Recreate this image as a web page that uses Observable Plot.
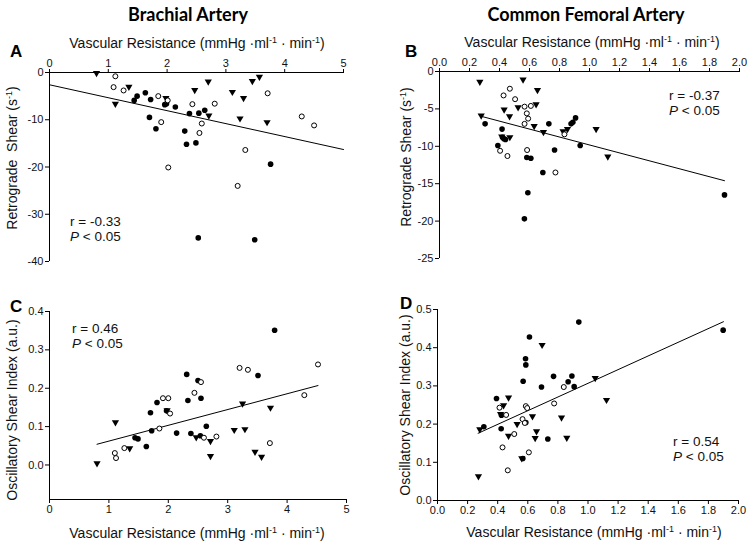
<!DOCTYPE html>
<html><head><meta charset="utf-8">
<script src="https://cdn.jsdelivr.net/npm/d3@7"></script>
<script src="https://cdn.jsdelivr.net/npm/@observablehq/plot@0.6"></script>
<style>
body{margin:0;background:#fff;}
#wrap{position:relative;width:754px;height:547px;font-family:"Liberation Sans",Arial,sans-serif;color:#111;overflow:hidden;}
.abs{position:absolute;white-space:nowrap;}
.title{font-family:Lato,"Open Sans",sans-serif;font-weight:bold;font-size:18px;color:#000;}
.letter{font-weight:bold;font-size:17px;color:#000;}
.axt{font-size:14px;}
.axt sup{font-size:9px;}
.note{font-size:13.5px;line-height:14.5px;}
.plot{position:absolute;}
</style></head><body><div id="wrap"></div>
<script>
// ---------- data ----------
const panelTitles = ["Brachial Artery", "Common Femoral Artery"];
const panelLetters = ["A", "B", "C", "D"];
const notesR = ["r = -0.33", "r = -0.37", "r = 0.46", "r = 0.54"];
const noteP = "< 0.05";

const xTicksBrachial = [0, 1, 2, 3, 4, 5];
const xTicksFemoral = [0, 0.2, 0.4, 0.6, 0.8, 1.0, 1.2, 1.4, 1.6, 1.8, 2.0];
const yTicksA = [0, -10, -20, -30, -40];
const yTicksB = [0, -5, -10, -15, -20, -25];
const yTicksC = [0, 0.1, 0.2, 0.3, 0.4];
const yTicksD = [0, 0.1, 0.2, 0.3, 0.4, 0.5];

// Panel A: brachial retrograde shear vs vascular resistance
const aTri = [[0.80,-0.3],[1.12,-6.8],[1.35,-3.2],[1.98,-5.6],[2.47,-3.9],[2.70,-2.1],[2.71,-9.3],[3.11,-4.3],[3.30,-5.6],[3.24,-9.9],[3.45,-2.0],[3.57,-1.1],[3.70,-10.7]];
const aFilled = [[1.44,-5.9],[1.49,-5.0],[1.63,-4.3],[1.72,-5.7],[1.70,-9.5],[1.81,-11.9],[1.96,-6.8],[1.99,-6.6],[2.14,-7.3],[2.30,-12.4],[2.33,-15.2],[2.38,-8.7],[2.49,-14.9],[2.54,-8.6],[2.64,-8.0],[3.76,-19.4],[2.53,-35.0],[3.49,-35.4]];
const aOpen = [[1.12,-0.8],[1.09,-3.1],[1.26,-3.8],[1.85,-5.0],[2.01,-5.9],[1.90,-10.5],[2.43,-6.7],[2.81,-6.6],[2.59,-10.8],[2.55,-12.8],[3.71,-4.4],[3.33,-16.4],[2.02,-20.1],[3.20,-24.0],[4.29,-9.3],[4.50,-11.2]];
const aFitX = [0, 5], aFitY = [-2.6, -16.3];

// Panel B: femoral retrograde shear
const bTri = [[0.269,-1.5],[0.557,-1.2],[0.653,-2.6],[0.431,-5.2],[0.524,-4.9],[0.644,-4.5],[0.467,-6.1],[0.278,-6.0],[0.631,-7.4],[0.693,-8.2],[0.415,-8.8],[0.469,-8.9],[0.824,-8.1],[0.853,-7.8],[1.044,-7.8],[1.122,-11.5]];
const bFilled = [[0.304,-7.0],[0.417,-7.7],[0.42,-8.8],[0.43,-9.0],[0.44,-9.1],[0.389,-9.9],[0.582,-11.5],[0.609,-11.6],[0.729,-7.0],[0.767,-10.5],[0.689,-13.5],[0.589,-16.2],[0.566,-19.7],[0.907,-6.2],[0.889,-6.8],[0.877,-7.0],[0.938,-9.9],[1.90,-16.5]];
const bOpen = [[0.427,-3.2],[0.469,-2.3],[0.504,-3.7],[0.567,-4.7],[0.609,-4.6],[0.582,-5.6],[0.591,-6.3],[0.567,-7.0],[0.404,-10.6],[0.453,-11.3],[0.584,-10.5],[0.773,-13.5],[0.833,-8.4]];
const bFitX = [0.28, 1.90], bFitY = [-6.0, -14.6];

// Panel C: brachial oscillatory shear index
const cTri = [[0.80,0.002],[1.11,0.109],[1.35,0.041],[1.98,0.140],[2.47,0.070],[2.71,0.060],[2.71,0.021],[3.11,0.089],[3.29,0.091],[3.25,0.158],[3.46,0.032],[3.57,0.019],[3.72,0.147]];
const cFilled = [[3.79,0.351],[3.51,0.233],[2.31,0.236],[2.50,0.220],[2.33,0.168],[2.55,0.174],[1.81,0.163],[1.70,0.136],[1.97,0.141],[2.64,0.101],[1.72,0.089],[2.14,0.083],[2.38,0.082],[2.54,0.076],[1.44,0.071],[1.49,0.068],[1.63,0.048]];
const cOpen = [[4.52,0.262],[3.20,0.253],[3.34,0.248],[4.29,0.182],[2.55,0.216],[2.44,0.188],[1.91,0.174],[2.00,0.174],[2.03,0.134],[1.85,0.095],[2.60,0.071],[2.81,0.074],[1.26,0.044],[1.10,0.031],[1.12,0.018],[3.71,0.057]];
const cFitX = [0.80, 4.52], cFitY = [0.054, 0.207];

// Panel D: femoral oscillatory shear index
const dTri = [[0.695,0.405],[0.472,0.267],[0.439,0.247],[0.419,0.224],[0.281,0.184],[0.529,0.198],[0.631,0.218],[0.824,0.215],[0.472,0.167],[0.658,0.179],[0.649,0.161],[0.859,0.162],[0.272,0.061],[0.560,0.108],[1.048,0.318],[1.123,0.261]];
const dFilled = [[0.611,0.428],[0.585,0.371],[0.587,0.355],[0.569,0.312],[0.691,0.297],[0.771,0.325],[0.868,0.311],[0.893,0.326],[0.908,0.298],[0.939,0.467],[1.898,0.446],[0.392,0.267],[0.308,0.193],[0.423,0.188],[0.587,0.204],[0.733,0.161],[0.567,0.110],[0.425,0.223]];
const dOpen = [[0.412,0.243],[0.456,0.224],[0.587,0.247],[0.596,0.242],[0.565,0.213],[0.580,0.203],[0.510,0.174],[0.432,0.139],[0.607,0.126],[0.467,0.079],[0.775,0.254],[0.839,0.297]];
const dFitX = [0.27, 1.90], dFitY = [0.176, 0.468];

// ---------- drawing ----------
const wrap = document.getElementById("wrap");
const triDown = {draw(ctx) { ctx.moveTo(-3.6, -2.9); ctx.lineTo(3.6, -2.9); ctx.lineTo(0, 3.3); ctx.closePath(); }};
const fmtInt = d => String(d);
const fmt1 = d => d3.format(".1f")(d).replace("−", "-");
const fmtHy = d => String(d);

function panel(o) {
  const xAxisY = o.xAnchor === "top" ? o.yDomain[1] : o.yDomain[0];
  const fit = o.fitX.map((x, i) => ({x, y: o.fitY[i]}));
  const chart = Plot.plot({
    width: o.width, height: o.height,
    marginLeft: o.ml, marginRight: o.mr, marginTop: o.mt, marginBottom: o.mb,
    style: {fontFamily: '"Liberation Sans", Arial, sans-serif', fontSize: "11px", color: "#111", background: "transparent", overflow: "visible"},
    x: {domain: o.xDomain},
    y: {domain: o.yDomain},
    marks: [
      Plot.ruleY([xAxisY], {stroke: "#000", strokeWidth: 1}),
      Plot.ruleX([o.xDomain[0]], {stroke: "#000", strokeWidth: 1}),
      Plot.axisX({anchor: o.xAnchor, ticks: o.xTicks, tickFormat: o.xFmt, tickSize: 4, tickPadding: 2, label: null, stroke: "#000"}),
      Plot.axisY({anchor: "left", ticks: o.yTicks, tickFormat: o.yFmt, tickSize: 4, tickPadding: 2, label: null, stroke: "#000"}),
      Plot.line(fit, {x: "x", y: "y", stroke: "#000", strokeWidth: 1}),
      Plot.dot(o.tri, {x: d => d[0], y: d => d[1], symbol: triDown, fill: "#000", stroke: "none"}),
      Plot.dot(o.filled, {x: d => d[0], y: d => d[1], r: 2.8, fill: "#000", stroke: "none"}),
      Plot.dot(o.open, {x: d => d[0], y: d => d[1], r: 2.5, fill: "#fff", stroke: "#000", strokeWidth: 1})
    ]
  });
  chart.classList.add("plot");
  chart.style.left = o.left + "px";
  chart.style.top = o.top + "px";
  wrap.appendChild(chart);
}

panel({left: 0, top: 0, width: 377, height: 275, ml: 49, mr: 34, mt: 72, mb: 14,
  xDomain: [0, 5], yDomain: [-40, 0], xTicks: xTicksBrachial, yTicks: yTicksA, xFmt: fmtInt, yFmt: fmtHy,
  xAnchor: "top", tri: aTri, filled: aFilled, open: aOpen, fitX: aFitX, fitY: aFitY});
panel({left: 377, top: 0, width: 377, height: 272, ml: 62, mr: 15, mt: 71, mb: 14,
  xDomain: [0, 2], yDomain: [-25, 0], xTicks: xTicksFemoral, yTicks: yTicksB, xFmt: fmt1, yFmt: fmtHy,
  xAnchor: "top", tri: bTri, filled: bFilled, open: bOpen, fitX: bFitX, fitY: bFitY});
panel({left: 0, top: 290, width: 377, height: 230, ml: 49, mr: 31, mt: 21, mb: 21,
  xDomain: [0, 5], yDomain: [-0.09, 0.4], xTicks: xTicksBrachial, yTicks: yTicksC, xFmt: fmtInt, yFmt: fmt1,
  xAnchor: "bottom", tri: cTri, filled: cFilled, open: cOpen, fitX: cFitX, fitY: cFitY});
panel({left: 377, top: 290, width: 377, height: 230, ml: 60, mr: 16, mt: 19, mb: 20,
  xDomain: [0, 2], yDomain: [0, 0.5], xTicks: xTicksFemoral, yTicks: yTicksD, xFmt: fmt1, yFmt: fmt1,
  xAnchor: "bottom", tri: dTri, filled: dFilled, open: dOpen, fitX: dFitX, fitY: dFitY});

// ---------- text ----------
function addText(html, cls, x, y, anchor, rotate) {
  const el = document.createElement("div");
  el.className = "abs " + cls;
  el.innerHTML = html;
  el.style.left = x + "px";
  el.style.top = y + "px";
  const tx = anchor === "middle" ? "-50%" : "0";
  el.style.transform = `translate(${tx},-50%)` + (rotate ? " rotate(-90deg)" : "");
  wrap.appendChild(el);
}
const xTitle = 'Vascular Resistance (mmHg ·ml<sup>-1</sup> · min<sup>-1</sup>)';
addText(panelTitles[0], "title", 188, 14, "middle");
addText(panelTitles[1], "title", 586, 14, "middle");
addText(panelLetters[0], "letter", 10, 52, "start");
addText(panelLetters[1], "letter", 405, 52, "start");
addText(panelLetters[2], "letter", 10, 307, "start");
addText(panelLetters[3], "letter", 400, 304, "start");
addText(xTitle, "axt", 197, 43, "middle");
addText(xTitle, "axt", 592, 42, "middle");
addText(xTitle, "axt", 197, 533, "middle");
addText(xTitle, "axt", 594, 532, "middle");
addText('Retrograde&nbsp; Shear (s<sup>-1</sup>)', "axt", 12, 158, "middle", true);
addText('Retrograde Shear (s<sup>-1</sup>)', "axt", 406, 157, "middle", true);
addText('Oscillatory Shear Index (a.u.)', "axt", 12, 410, "middle", true);
addText('Oscillatory Shear Index (a.u.)', "axt", 405, 405, "middle", true);
const noteHtml = r => `${r}<br><i>P</i> ${noteP}`;
addText(noteHtml(notesR[0]), "note", 70, 229, "start");
addText(noteHtml(notesR[1]), "note", 669, 103, "start");
addText(noteHtml(notesR[2]), "note", 72, 336, "start");
addText(noteHtml(notesR[3]), "note", 673, 449, "start");
</script></body></html>
